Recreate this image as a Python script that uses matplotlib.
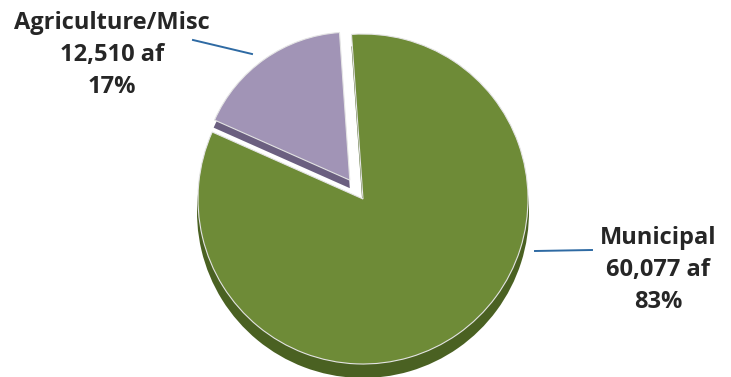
import matplotlib.pyplot as plt

labels = ["Agriculture/Misc", "Municipal"]
acre_feet = [12510, 60077]
percents = ["17%", "83%"]

face_colors = ["#A194B6", "#6E8B37"]
side_colors = ["#6B5F80", "#4A6122"]

fig = plt.figure(figsize=(7.31, 3.77), dpi=100)
ax = fig.add_axes([0, 0, 1, 1])

cx, cy, r = 363, 377 - 199, 165
# pie() offsets by explode in data units when center/radius are given
explode = [23, 0]
depth = 13

# darker copy shifted down gives the bevel/depth look
side, _ = ax.pie(acre_feet, colors=side_colors, startangle=94, counterclock=True,
                 explode=explode, center=(cx, cy - depth), radius=r + 1,
                 wedgeprops=dict(linewidth=0))
face, _ = ax.pie(acre_feet, colors=face_colors, startangle=94, counterclock=True,
                 explode=explode, center=(cx, cy), radius=r,
                 wedgeprops=dict(linewidth=0.8, edgecolor="#e4e4e4"))
# the pulled-out slice sits a little smaller, thinner and in front
side[0].set_radius(r - 16)
face[0].set_radius(r - 17)
side[0].set_center((side[0].center[0], side[0].center[1] + 5))
side[0].set_zorder(5)
face[0].set_zorder(6)

ax.set_xlim(0, 731)
ax.set_ylim(0, 377)
ax.set_aspect("equal")
ax.axis("off")

font = dict(family=["Open Sans", "DejaVu Sans"], fontsize=17, fontweight="bold",
            color="#262626", ha="center", va="center", linespacing=1.42)

ax.text(112, 377 - 55, f"{labels[0]}\n{acre_feet[0]:,} af\n{percents[0]}", **font)
ax.text(658, 377 - 270, f"{labels[1]}\n{acre_feet[1]:,} af\n{percents[1]}", **font)

ax.plot([193, 252], [377 - 40, 377 - 54], color="#2E6AA3", lw=1.4)
ax.plot([535, 592], [377 - 251, 377 - 250], color="#2E6AA3", lw=1.4)

fig.savefig("out.png", dpi=100)
